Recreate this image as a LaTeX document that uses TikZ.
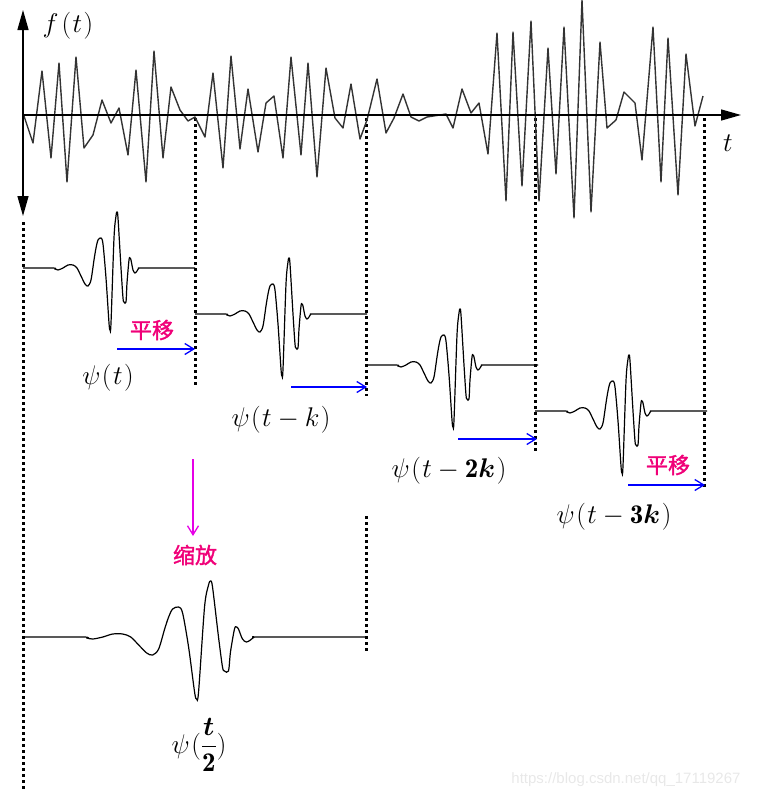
\RequirePackage{fix-cm}
\documentclass[tikz,border=0pt]{standalone}
\usepackage{fontspec}
\usepackage{amsmath}
\usepackage{bm}
\usetikzlibrary{arrows.meta}
\newfontfamily\cjk[FakeBold=1.5]{Noto Sans CJK SC}
\newfontfamily\wmfont{Liberation Sans}
\definecolor{hotpink}{RGB}{240,0,120}
\definecolor{mymagenta}{RGB}{230,0,230}
\definecolor{myblue}{RGB}{0,0,255}
\tikzset{
  sig/.style={line width=1.4pt, black!80, line join=round},
  axisline/.style={line width=1.4pt, black},
  dots/.style={line width=3pt, black, dash pattern=on 3pt off 3pt},
  wv/.style={line width=1.2pt, black},
  lab/.style={font=\fontsize{27}{32}\selectfont, inner sep=0pt},
  cjklab/.style={font=\cjk\fontsize{22}{24}\selectfont, text=hotpink, inner sep=0pt},
  shiftarr/.style={draw=myblue, line width=1.3pt, -{Straight Barb[length=9pt,width=11pt]}},
  scalearr/.style={draw=mymagenta, line width=1.3pt, -{Straight Barb[length=9pt,width=11pt]}},
  wavelet/.pic={\draw[wv] plot[smooth,tension=0.5] coordinates{
    (0,0) (30,0) (32,1) (35,2) (40,0) (45,-3) (50,-3) (54,0) (58,8) (62,16) (65,18) (68,12)
    (71,-8) (73,-20) (75,-28) (78,-30) (80,-24) (83,10) (86,55) (87,62) (88,55) (91,-30)
    (93,-52) (94,-56) (95,-50) (98,0) (100,30) (101,34) (103,34) (104,15) (106,-8) (107,-10)
    (108,-8) (110,2) (112,5) (114,3) (116,0) (119,0) (172,0)};}
}
\begin{document}
\begin{tikzpicture}[x=1pt,y=-1pt]
\useasboundingbox (0,0) rectangle (757,801);
% dotted guide lines
\draw[dots] (23,222) -- (23,790);
\draw[dots] (195,118) -- (195,386);
\draw[dots] (366,118) -- (366,396);
\draw[dots] (366,516) -- (366,652);
\draw[dots] (535,118) -- (535,451);
\draw[dots] (704,118) -- (704,489);
% signal
\draw[sig] (23,113) -- (33,143) -- (42,71) -- (51,158) -- (59,63) -- (67,182) -- (76,57)
 -- (84,148) -- (93,135) -- (102,100) -- (111,123) -- (119,108) -- (128,155) -- (136,70)
 -- (146,182) -- (154,51) -- (163,158) -- (171,87) -- (180,110) -- (188,121) -- (195,117)
 -- (205,137) -- (213,73) -- (223,168) -- (231,56) -- (240,149) -- (248,89) -- (258,152)
 -- (266,103) -- (274,96) -- (283,158) -- (291,57) -- (301,155) -- (308,63) -- (317,177)
 -- (326,68) -- (335,118) -- (343,128) -- (351,84) -- (360,139) -- (367,120) -- (377,79)
 -- (386,133) -- (394,118) -- (403,94) -- (411,117) -- (419,121) -- (427,117) -- (446,114)
 -- (453,128) -- (462,89) -- (471,113) -- (479,103) -- (488,154) -- (497,33) -- (506,201)
 -- (513,32) -- (522,186) -- (531,21) -- (539,201) -- (548,48) -- (556,174) -- (564,27)
 -- (574,218) -- (582,0) -- (591,212) -- (600,42) -- (607,128) -- (616,120) -- (624,92)
 -- (635,103) -- (642,160) -- (653,27) -- (661,182) -- (668,38) -- (678,195) -- (686,54)
 -- (695,126) -- (703,96);
% axes
\coordinate (otop) at (23,10);
\coordinate (obot) at (23,216);
\coordinate (o) at (23,115);
\coordinate (xend) at (741,115);
\draw[axisline,{Triangle[length=20pt,width=11pt]}-{Triangle[length=20pt,width=11pt]}] (otop) -- (obot);
\draw[axisline,-{Triangle[length=20pt,width=11pt]}] (o) -- (xend);
\node[lab] (fl) at (68,26) {$f\mkern2mu(\mkern1mu t\mkern1mu)$};
\node[lab] (tl) at (728,143) {$t$};
% wavelets
\pic at (23,268) {wavelet};
\pic at (195,314) {wavelet};
\pic at (366,365) {wavelet};
\pic at (535,411) {wavelet};
\pic[xscale=1.995] at (23,637) {wavelet};
% labels
\node[lab] (p1) at (108,378) {$\psi\mkern1mu(\mkern1mu t\mkern1mu)$};
\node[lab] (p2) at (281,420) {$\psi\mkern1mu(\mkern1mu t-k\mkern1mu)$};
\node[lab] (p3) at (449,471) {$\psi\mkern1mu(\mkern1mu t-\mathbf{2}\bm{k}\mkern1mu)$};
\node[lab] (p4) at (614,517) {$\psi\mkern1mu(\mkern1mu t-\mathbf{3}\bm{k}\mkern1mu)$};
\node[lab] (p5) at (199,745) {$\psi\mkern1mu(\dfrac{\bm{t}}{\mathbf{2}})$};
\node[cjklab] (s1) at (152,330) {平移};
\node[cjklab] (s2) at (668,465) {平移};
\node[cjklab] (s3) at (195,555) {缩放};
% shift arrows
\coordinate (a1s) at (117,349); \coordinate (a1e) at (195,349);
\coordinate (a2s) at (291,387); \coordinate (a2e) at (367,387);
\coordinate (a3s) at (458,439); \coordinate (a3e) at (537,439);
\coordinate (a4s) at (628,485); \coordinate (a4e) at (705,485);
\draw[shiftarr] (a1s) -- (a1e);
\draw[shiftarr] (a2s) -- (a2e);
\draw[shiftarr] (a3s) -- (a3e);
\draw[shiftarr] (a4s) -- (a4e);
\coordinate (m1s) at (193,459); \coordinate (m1e) at (193,536);
\draw[scalearr] (m1s) -- (m1e);
% watermark
\node[font=\wmfont\fontsize{15}{17}\selectfont, text=black!9, inner sep=0pt] (wm) at (626,780) {https://blog.csdn.net/qq\_17119267};
\end{tikzpicture}
\end{document}
